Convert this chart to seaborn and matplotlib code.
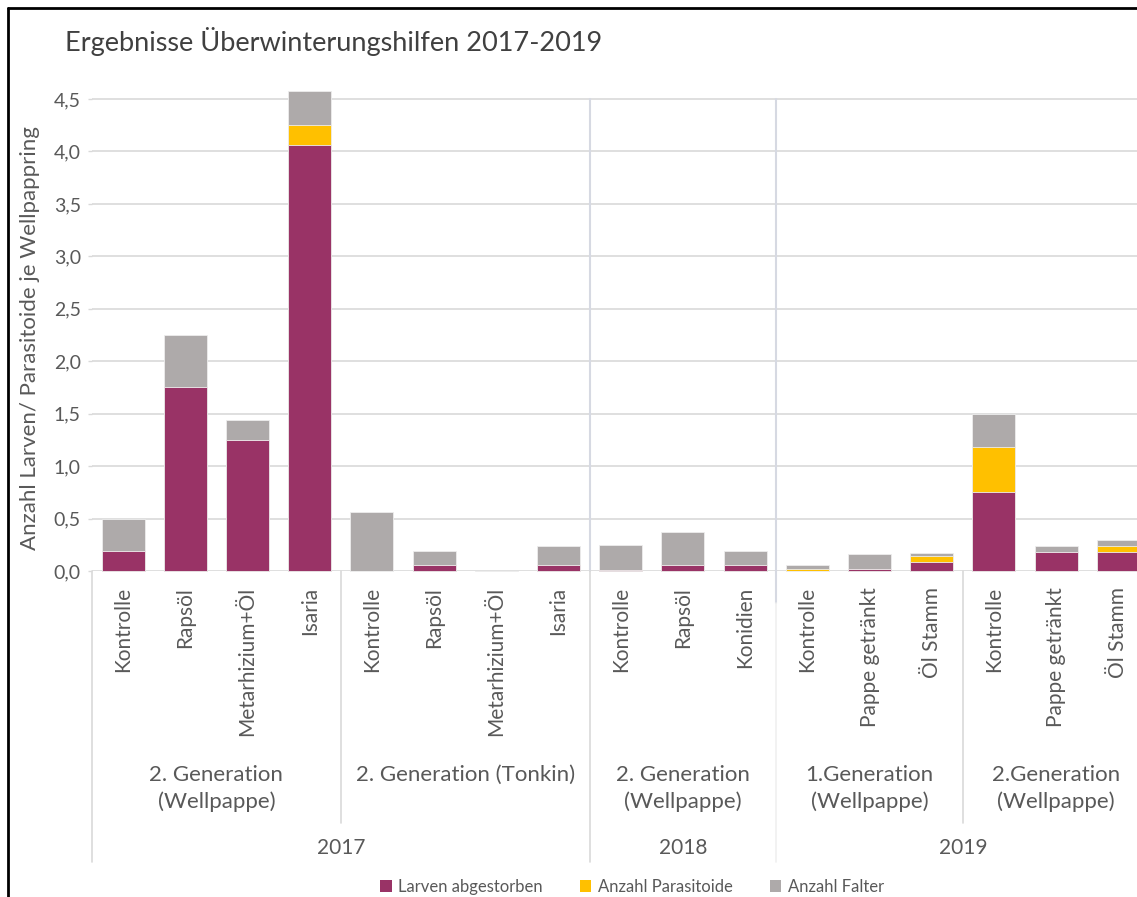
import matplotlib
matplotlib.use("Agg")
import matplotlib.pyplot as plt
import matplotlib.transforms as mtransforms
from matplotlib.patches import Patch
import seaborn as sns
import pandas as pd

# ---------------- data ----------------
categories = ["Kontrolle", "Rapsöl", "Metarhizium+Öl", "Isaria",
              "Kontrolle", "Rapsöl", "Metarhizium+Öl", "Isaria",
              "Kontrolle", "Rapsöl", "Konidien",
              "Kontrolle", "Pappe getränkt", "Öl Stamm",
              "Kontrolle", "Pappe getränkt", "Öl Stamm"]
larven = [0.19, 1.75, 1.25, 4.06, 0.00, 0.06, 0.00, 0.06,
          0.01, 0.06, 0.06, 0.00, 0.02, 0.09, 0.75, 0.18, 0.18]
parasitoide = [0.00, 0.00, 0.00, 0.19, 0.00, 0.00, 0.00, 0.00,
               0.00, 0.00, 0.00, 0.02, 0.00, 0.05, 0.43, 0.00, 0.06]
falter = [0.31, 0.50, 0.19, 0.33, 0.56, 0.13, 0.00, 0.18,
          0.24, 0.31, 0.13, 0.04, 0.14, 0.03, 0.32, 0.06, 0.06]
groups = [("2. Generation\n(Wellpappe)", 0, 3),
          ("2. Generation (Tonkin)", 4, 7),
          ("2. Generation\n(Wellpappe)", 8, 10),
          ("1.Generation\n(Wellpappe)", 11, 13),
          ("2.Generation\n(Wellpappe)", 14, 16)]
years = [("2017", 0, 7), ("2018", 8, 10), ("2019", 11, 16)]
series_names = ["Larven abgestorben", "Anzahl Parasitoide", "Anzahl Falter"]
title = "Ergebnisse Überwinterungshilfen 2017-2019"
ylabel = "Anzahl Larven/ Parasitoide je Wellpappring"
yticks = [0.0, 0.5, 1.0, 1.5, 2.0, 2.5, 3.0, 3.5, 4.0, 4.5]

# ---------------- style ----------------
sns.set_theme(style="white")
plt.rcParams["font.family"] = ["Lato", "DejaVu Sans"]
TXT = "#595959"
GRID = "#D9D9D9"
C_L, C_P, C_F = "#993366", "#FFC000", "#AEAAAA"

W, H = 1137, 897
fig = plt.figure(figsize=(W / 100, H / 100), dpi=100)

ppu = (571 - 99) / 4.5
ytop = 4.6
ax_left, ax_right = 92, W
ax_bottom_px, ax_top_px = 571, 571 - ytop * ppu
ax = fig.add_axes([ax_left / W, 1 - ax_bottom_px / H,
                   (ax_right - ax_left) / W, (ax_bottom_px - ax_top_px) / H])

ids = [str(i) for i in range(len(categories))]
df = pd.DataFrame({
    "id": ids,
    "total": [l + p + f for l, p, f in zip(larven, parasitoide, falter)],
    "lp": [l + p for l, p in zip(larven, parasitoide)],
    "l": larven,
})

bw = 0.69
for col, c in [("total", C_F), ("lp", C_P), ("l", C_L)]:
    sns.barplot(data=df, x="id", y=col, order=ids, color=c, width=bw,
                edgecolor="#EDEDED", linewidth=0.6, saturation=1, ax=ax,
                zorder=3)

cat_w = 62.2
ax.set_xlim(-0.5, -0.5 + (ax_right - ax_left) / cat_w)
ax.set_ylim(0, ytop)
ax.set_yticks(yticks)
ax.set_yticklabels([f"{v:.1f}".replace(".", ",") for v in yticks],
                   color=TXT, fontsize=14)
ax.tick_params(axis="y", length=3, color=GRID, width=1, pad=5, left=True)
ax.tick_params(axis="x", length=0, labelbottom=False)
ax.set_xlabel("")
ax.set_ylabel("")
for s in ax.spines.values():
    s.set_visible(False)
ax.grid(False)
for v in yticks:
    ax.axhline(v, color=GRID, lw=1.2, zorder=1)
for b in ax.patches:
    b.set_clip_on(False)

# vertical separators in plot area
for xb in (7.5, 10.5):
    ax.plot([xb, xb], [0, 4.5], color="#D6D9E2", lw=1.5, zorder=2, clip_on=False)

# ---------------- multilevel category axis ----------------
tr = mtransforms.blended_transform_factory(ax.transData, fig.transFigure)
fy = lambda py: 1 - py / H

for i, lab in enumerate(categories):
    fig.text(i, fy(587), lab, transform=tr, rotation=90, ha="center",
             va="top", color=TXT, fontsize=15)

for lab, a, b in groups:
    lines = lab.split("\n")
    xc = (a + b) / 2
    for k, ln in enumerate(lines):
        fig.text(xc, fy(775 + 27 * k), ln, transform=tr, ha="center",
                 va="center", color=TXT, fontsize=16)

for lab, a, b in years:
    fig.text((a + b) / 2, fy(848), lab, transform=tr, ha="center",
             va="center", color=TXT, fontsize=15)

def vline(x, y0, y1, color=GRID, lw=1.2):
    ax.plot([x, x], [fy(y0), fy(y1)], transform=tr, color=color, lw=lw,
            clip_on=False, zorder=2)

vline(-0.5, 571, 862)
vline(3.5, 571, 823)
vline(7.5, 571, 862)
vline(10.5, 571, 603, color="#D6D9E2", lw=1.5)
vline(10.5, 603, 862, color="#F0F0F0")
vline(13.5, 571, 823)

# ---------------- titles, legend ----------------
fig.text(65 / W, fy(42), title, ha="left", va="center", color="#404040",
         fontsize=19.5)
fig.text(30 / W, fy(338), ylabel, rotation=90, ha="center", va="center",
         color=TXT, fontsize=16)

handles = [Patch(facecolor=c, edgecolor="none") for c in (C_L, C_P, C_F)]
fig.legend(handles, series_names, loc="center", ncol=3,
           bbox_to_anchor=(632 / W, fy(887)), frameon=False,
           fontsize=12, labelcolor=TXT, handlelength=0.7, handleheight=0.7,
           handletextpad=0.4, columnspacing=2.2)

# outer frame (left and top visible, rest cropped)
fig.add_artist(plt.Line2D([7.5 / W, 7.5 / W], [0, fy(8)], transform=fig.transFigure,
                          color="black", lw=2))
fig.add_artist(plt.Line2D([7.5 / W, 1], [fy(8.5), fy(8.5)], transform=fig.transFigure,
                          color="black", lw=2))

fig.savefig("out.png", dpi=100, facecolor="white")
